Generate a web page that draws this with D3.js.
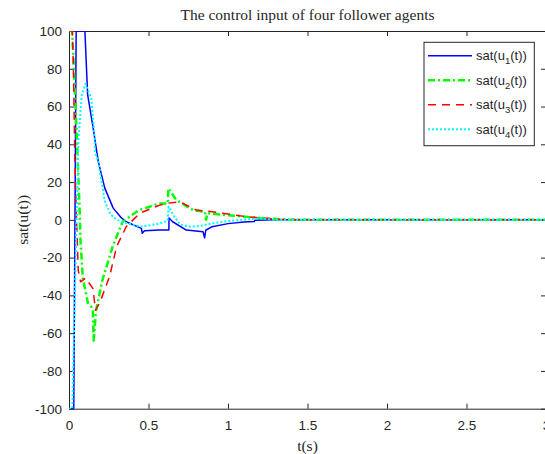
<!DOCTYPE html>
<html>
<head>
<meta charset="utf-8">
<script src="https://cdn.jsdelivr.net/npm/d3@7"></script>
<style>
  body { margin: 0; background: #fff; }
  text { fill: #262626; }
</style>
</head>
<body>
<svg id="chart" width="545" height="454"></svg>
<script>
// values
var xTicks = [0, 0.5, 1, 1.5, 2, 2.5, 3];
var yTicks = [-100, -80, -60, -40, -20, 0, 20, 40, 60, 80, 100];
var seriesNames = ["1", "2", "3", "4"];

var t1 = [0, 0.03, 0.045, 0.1, 0.117, 0.152, 0.184, 0.225, 0.278, 0.33, 0.36, 0.455, 0.461, 0.475, 0.57, 0.628, 0.629, 0.652, 0.738, 0.843, 0.853, 0.86, 0.9, 1.0, 1.1, 1.165, 1.17, 1.3, 3];
var u1 = [-100, -100, 100, 100, 66.5, 48.6, 31, 16.8, 6.2, 1, -1, -4.5, -7.1, -5.8, -5.4, -5.4, 1, -1, -5.4, -6.3, -9.5, -5.5, -3.6, -2, -1.2, -0.9, -0.2, 0, 0];

var t2 = [0, 0.02, 0.047, 0.068, 0.072, 0.087, 0.119, 0.14, 0.15, 0.155, 0.17, 0.21, 0.275, 0.337, 0.44, 0.57, 0.622, 0.625, 0.675, 0.78, 0.855, 0.862, 0.87, 0.99, 1.2, 1.4, 3];
var u2 = [100, 100, 48.6, 2.7, -10.5, -31, -44, -46, -48, -64, -48, -32, -14, -1, 5.2, 8.7, 8.7, 16.7, 10.5, 5.2, 4.3, 0, 3.5, 2.5, 1, 0, 0];

var t3 = [0, 0.02, 0.027, 0.037, 0.047, 0.052, 0.058, 0.073, 0.104, 0.15, 0.167, 0.193, 0.255, 0.3, 0.36, 0.445, 0.57, 0.62, 0.696, 0.76, 0.8, 0.9, 1.12, 1.32, 1.5, 3];
var u3 = [100, 100, 84, 31, 1, -10.5, -26.6, -32.8, -30.8, -36.3, -47.8, -44, -30, -14, -3.6, 3.5, 7.8, 8.8, 9.6, 6.9, 5.2, 4.3, 1.6, 0.3, 0, 0];

var t4 = [0, 0.02, 0.06, 0.08, 0.104, 0.14, 0.162, 0.163, 0.184, 0.225, 0.26, 0.3, 0.35, 0.45, 0.5, 0.57, 0.62, 0.627, 0.66, 0.7, 0.76, 0.82, 0.9, 1.0, 1.2, 1.3, 3];
var u4 = [-100, -100, 43, 66, 72, 64.5, 43, 36, 31, 10, 3, 0, -1.5, -3.6, -3, -1.9, -0.5, 7, 2, -2.5, -3.6, -3.3, -1.9, -0.6, 0.8, 0, 0];

var L = 69, R = 546, T = 31, B = 408.7;
var svg = d3.select("#chart");

var x = d3.scaleLinear().domain([0, 3]).range([L, R]);
var y = d3.scaleLinear().domain([-100, 100]).range([B, T]);

svg.append("defs").append("clipPath").attr("id", "clip")
  .append("rect").attr("x", L).attr("y", T).attr("width", R - L).attr("height", B - T);

var tickFont = "'Liberation Sans', Arial, sans-serif";
var serif = "'Liberation Serif', 'Times New Roman', serif";
var plain = function(d) { return String(d); }; // hyphen minus like the original

function styleAxis(g, labels) {
  g.select(".domain").attr("stroke", "#262626").attr("stroke-width", 1);
  g.selectAll(".tick line").attr("stroke", "#262626");
  g.selectAll(".tick text").style("font-family", tickFont).style("font-size", "13.5px")
    .attr("fill", "#262626");
  if (!labels) g.selectAll(".tick text").remove();
}

svg.append("g").attr("transform", "translate(0," + B + ")")
  .call(d3.axisBottom(x).tickValues(xTicks).tickSize(-5).tickSizeOuter(0).tickPadding(12).tickFormat(plain))
  .call(styleAxis, true);
svg.append("g").attr("transform", "translate(0," + T + ")")
  .call(d3.axisTop(x).tickValues(xTicks).tickSize(-5).tickSizeOuter(0))
  .call(styleAxis, false);
svg.append("g").attr("transform", "translate(" + L + ",0)")
  .call(d3.axisLeft(y).tickValues(yTicks).tickSize(-5).tickSizeOuter(0).tickPadding(7).tickFormat(plain))
  .call(styleAxis, true);
svg.append("g").attr("transform", "translate(" + R + ",0)")
  .call(d3.axisRight(y).tickValues(yTicks).tickSize(-5).tickSizeOuter(0))
  .call(styleAxis, false);

var styles = [
  { t: t1, u: u1, color: "#0000ff", width: 1.5, dash: null },
  { t: t2, u: u2, color: "#00ff00", width: 2.5, dash: "7,3,2,3" },
  { t: t3, u: u3, color: "#ff0000", width: 1.5, dash: "8,6" },
  { t: t4, u: u4, color: "#00ffff", width: 2, dash: "2,2" }
];

var line = d3.line().x(function(d) { return x(d[0]); }).y(function(d) { return y(d[1]); });
var plot = svg.append("g").attr("clip-path", "url(#clip)");
styles.forEach(function(s) {
  var pts = s.t.map(function(tt, i) { return [tt, s.u[i]]; });
  plot.append("path").datum(pts)
    .attr("d", line)
    .attr("fill", "none")
    .attr("stroke", s.color)
    .attr("stroke-width", s.width)
    .attr("stroke-dasharray", s.dash)
    .attr("stroke-linejoin", "round");
});

// title and axis labels
svg.append("text").attr("x", (L + R) / 2).attr("y", 20).attr("text-anchor", "middle")
  .style("font-family", serif).style("font-size", "15.5px").text("The control input of four follower agents");
svg.append("text").attr("x", (L + R) / 2).attr("y", 451).attr("text-anchor", "middle")
  .style("font-family", serif).style("font-size", "15.5px").text("t(s)");
svg.append("text").attr("transform", "translate(28," + ((T + B) / 2) + ") rotate(-90)")
  .attr("text-anchor", "middle")
  .style("font-family", serif).style("font-size", "15.5px").text("sat(u(t))");

// legend
var lg = svg.append("g");
lg.append("rect").attr("x", 424).attr("y", 42.3).attr("width", 110.3).attr("height", 103.4)
  .attr("fill", "#fff").attr("stroke", "#262626").attr("stroke-width", 1);
styles.forEach(function(s, i) {
  var yy = 55.7 + i * 24.5;
  lg.append("line").attr("x1", 428).attr("x2", 472).attr("y1", yy).attr("y2", yy)
    .attr("stroke", s.color).attr("stroke-width", s.width).attr("stroke-dasharray", s.dash);
  var tx = lg.append("text").attr("x", 476).attr("y", yy + 4.5)
    .style("font-family", tickFont).style("font-size", "13px");
  tx.append("tspan").text("sat(u");
  tx.append("tspan").attr("dy", 4).style("font-size", "9.5px").text(seriesNames[i]);
  tx.append("tspan").attr("dy", -4).text("(t))");
});
</script>
</body>
</html>
